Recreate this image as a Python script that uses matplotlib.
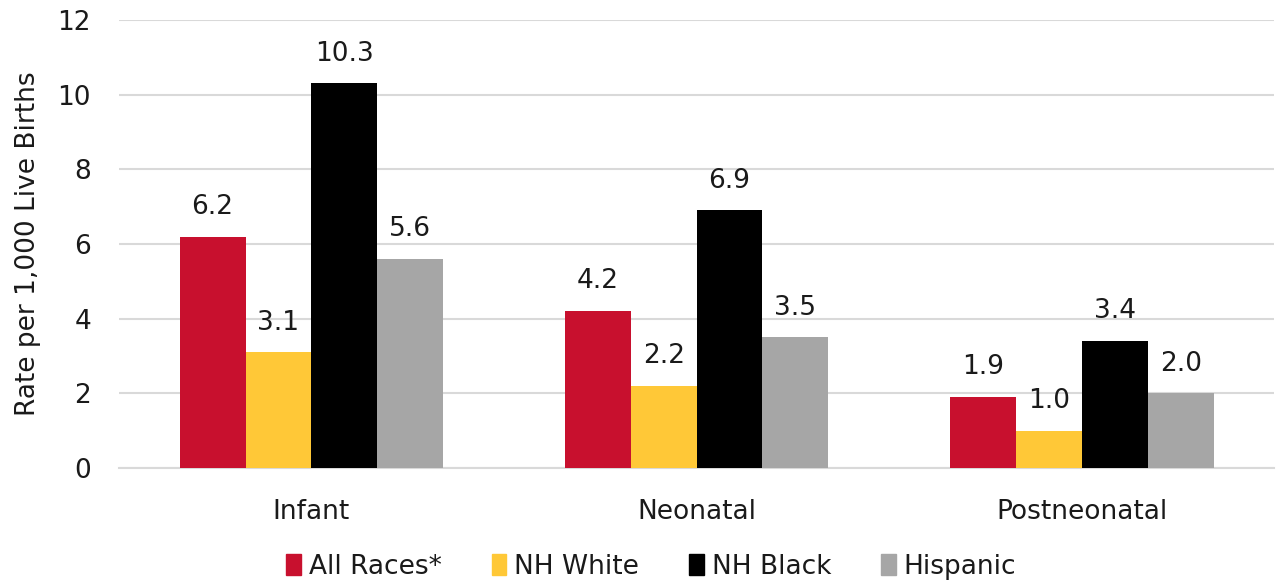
import matplotlib.pyplot as plt
import numpy as np
from matplotlib.patches import Patch

plt.rcParams['font.family'] = ['DejaVu Sans']

categories = ["Infant", "Neonatal", "Postneonatal"]
series_names = ["All Races*", "NH White", "NH Black", "Hispanic"]
all_races = [6.2, 4.2, 1.9]
nh_white = [3.1, 2.2, 1.0]
nh_black = [10.3, 6.9, 3.4]
hispanic = [5.6, 3.5, 2.0]
colors = ["#C8102E", "#FFC837", "#000000", "#A6A6A6"]
txt = "#1a1a1a"
fs = 19

fig = plt.figure(figsize=(12.77, 5.83), dpi=100)
ax = fig.add_axes([0.093, 0.197, 0.905, 0.769])

x = np.arange(len(categories))
w = 0.171
for i, vals in enumerate([all_races, nh_white, nh_black, hispanic]):
    pos = x + (i - 1.5) * w
    ax.bar(pos, vals, width=w, color=colors[i], zorder=3)
    for p, v in zip(pos, vals):
        ax.text(p, v + 0.45, "%.1f" % v, ha="center", va="bottom", fontsize=fs, color=txt)

ax.set_xlim(-0.5, 2.5)
ax.set_ylim(0, 12)
ax.set_yticks(range(0, 13, 2))
ax.set_xticks(x)
ax.set_xticklabels(categories)
ax.tick_params(axis="both", length=0, labelsize=fs, colors=txt)
ax.tick_params(axis="x", pad=22)
ax.tick_params(axis="y", pad=20)
ax.grid(axis="y", color="#D9D9D9", linewidth=1.5, zorder=0)
for s in ["top", "right", "left"]:
    ax.spines[s].set_visible(False)
ax.spines["bottom"].set_color("#D9D9D9")
ax.spines["bottom"].set_linewidth(1.5)
ax.set_ylabel("Rate per 1,000 Live Births", fontsize=fs, color=txt, labelpad=12)

handles = [Patch(color=c, label=n) for c, n in zip(colors, series_names)]
fig.legend(handles=handles, loc="lower center", bbox_to_anchor=(0.51, -0.035), ncol=4,
           frameon=False, fontsize=fs, handlelength=0.55, handleheight=0.85,
           handletextpad=0.3, columnspacing=1.9, labelcolor=txt)

fig.savefig("out.png", dpi=100)
